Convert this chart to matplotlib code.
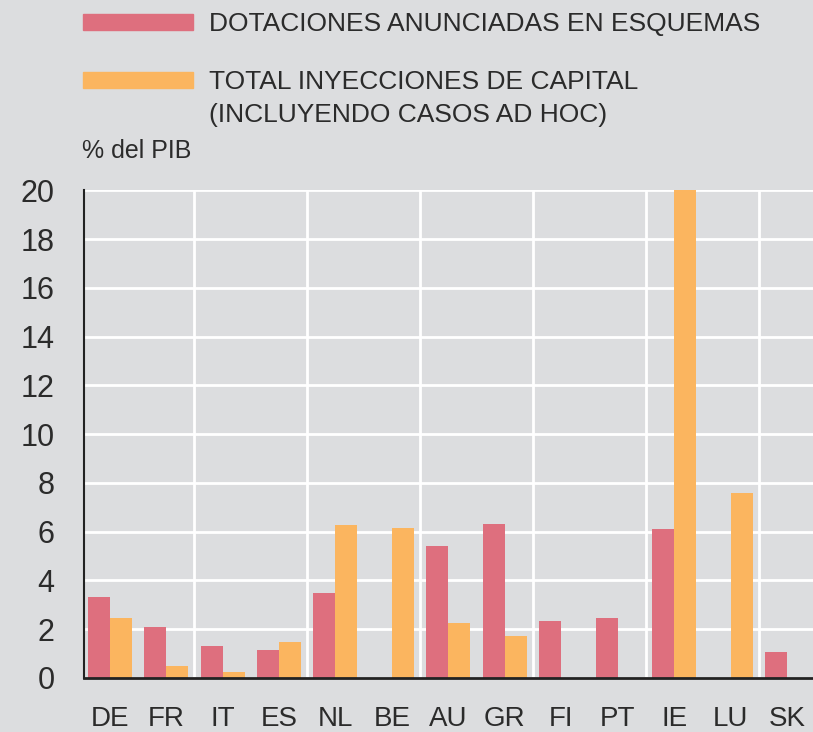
import numpy as np
import matplotlib
matplotlib.use("Agg")
import matplotlib.pyplot as plt
from matplotlib.patches import Rectangle

# Data (% del PIB)
countries = ["DE", "FR", "IT", "ES", "NL", "BE", "AU", "GR", "FI", "PT", "IE", "LU", "SK"]
dotaciones = [3.3, 2.1, 1.3, 1.15, 3.5, 0.0, 5.4, 6.3, 2.35, 2.45, 6.1, 0.0, 1.05]
inyecciones = [2.45, 0.5, 0.25, 1.45, 6.25, 6.15, 2.25, 1.7, 0.0, 0.0, 20.0, 7.6, 0.0]
legend_lines = [["DOTACIONES ANUNCIADAS EN ESQUEMAS"],
                ["TOTAL INYECCIONES DE CAPITAL", "(INCLUYENDO CASOS AD HOC)"]]

RED = "#de6f7e"
ORANGE = "#fbb55f"
BG = "#dcdddf"
TXT = "#2b2b2b"

plt.rcParams["font.family"] = ["Liberation Sans", "DejaVu Sans"]

fig = plt.figure(figsize=(8.13, 7.32), dpi=100, facecolor=BG)
ax = fig.add_axes([0.103, 0.074, 0.897, 0.666], facecolor=BG)

x = np.arange(len(countries))
w = 0.39
ax.bar(x - w / 2, dotaciones, width=w, color=RED, zorder=3)
ax.bar(x + w / 2, inyecciones, width=w, color=ORANGE, zorder=3)

ax.set_xlim(-0.46, len(countries) - 0.54)
ax.set_ylim(0, 20)
ax.set_yticks(np.arange(0, 21, 2))
ax.set_xticks(x)
ax.set_xticklabels(countries)
ax.set_xticks(np.arange(1.5, len(countries) - 1, 2), minor=True)

ax.grid(axis="y", which="major", color="white", lw=2, zorder=1)
ax.grid(axis="x", which="minor", color="white", lw=2, zorder=1)
ax.grid(axis="x", which="major", visible=False)

ax.tick_params(axis="both", which="both", length=0, colors=TXT)
ax.tick_params(axis="y", labelsize=22, pad=21)
ax.tick_params(axis="x", labelsize=20, pad=20)
for s in ["top", "right"]:
    ax.spines[s].set_visible(False)
ax.spines["left"].set_color("#222222")
ax.spines["left"].set_linewidth(1.5)
ax.spines["bottom"].set_color("#222222")
ax.spines["bottom"].set_linewidth(2)
ax.spines["left"].set_zorder(4)
ax.spines["bottom"].set_zorder(4)

# legend drawn in figure coordinates
W, H = 813, 732
for (yc, col, lines) in [(22, RED, legend_lines[0]), (80, ORANGE, legend_lines[1])]:
    fig.patches.append(Rectangle((83 / W, 1 - (yc + 8) / H), 110 / W, 16 / H,
                                 transform=fig.transFigure, color=col))
    for i, lab in enumerate(lines):
        fig.text(209 / W, 1 - (yc + 2 + 33 * i) / H, lab, fontsize=19, color=TXT,
                 va="center", ha="left")

fig.text(82 / W, 1 - 151 / H, "% del PIB", fontsize=18, color=TXT, va="center", ha="left")

fig.savefig("out.png", dpi=100, facecolor=BG)
